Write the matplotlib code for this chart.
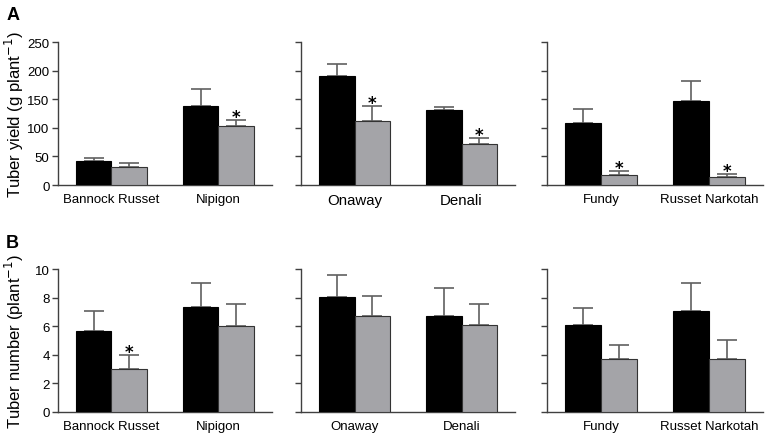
import matplotlib.pyplot as plt
import numpy as np

plt.rcParams['font.family'] = ['Liberation Sans', 'DejaVu Sans']

# cultivars in the three groups
groups = [["Bannock Russet", "Nipigon"], ["Onaway", "Denali"], ["Fundy", "Russet Narkotah"]]

# tuber yield (g plant-1): control (black) and treated (grey), upper error
yield_ctrl = [[42, 138], [190, 132], [109, 147]]
yield_ctrl_err = [[4.5, 30], [21, 5], [24, 35]]
yield_trt = [[32, 103], [112, 71], [17.5, 13.5]]
yield_trt_err = [[6, 11], [26, 12], [7.5, 6]]
yield_sig = [[False, True], [True, True], [True, True]]

# tuber number (plant-1)
num_ctrl = [[5.65, 7.33], [8.05, 6.7], [6.05, 7.05]]
num_ctrl_err = [[1.4, 1.72], [1.5, 1.95], [1.2, 2.0]]
num_trt = [[3.0, 6.0], [6.72, 6.05], [3.72, 3.7]]
num_trt_err = [[1.0, 1.52], [1.4, 1.48], [1.0, 1.3]]
num_sig = [[True, False], [False, False], [False, False]]

BAR_W = 1 / 3
GREY = '#a4a4a8'
ERR = '#606060'
AX_COL = '#404040'

fig = plt.figure(figsize=(7.65, 4.35), dpi=100)

lefts = [0.0758, 0.3935, 0.715]
widths = [0.2797, 0.2797, 0.282]
bottoms = [0.5724, 0.0506]
h = 0.3287


def draw(ax, ctrl, ctrl_err, trt, trt_err, sig, labels, ymax, yticks, show_y, lab_size, star_off):
    x = np.arange(len(labels))
    ax.bar(x - BAR_W / 2, ctrl, BAR_W, color='black', edgecolor='black', lw=0.8, zorder=3)
    ax.bar(x + BAR_W / 2, trt, BAR_W, color=GREY, edgecolor='#333333', lw=0.8, zorder=3)
    ax.errorbar(x - BAR_W / 2, ctrl, yerr=[np.zeros(len(x)), ctrl_err], fmt='none',
                ecolor=ERR, elinewidth=1.2, capsize=7, capthick=1.2, zorder=2)
    ax.errorbar(x + BAR_W / 2, trt, yerr=[np.zeros(len(x)), trt_err], fmt='none',
                ecolor=ERR, elinewidth=1.2, capsize=7, capthick=1.2, zorder=2)
    for i in range(len(x)):
        if sig[i]:
            ax.annotate('*', (x[i] + BAR_W / 2, trt[i] + trt_err[i]), xytext=(0, star_off),
                        textcoords='offset points', ha='center', va='center',
                        fontsize=12, fontweight='bold', family='DejaVu Sans')
    ax.set_xlim(-0.5, 1.5)
    ax.set_ylim(0, ymax)
    ax.set_yticks(yticks)
    if not show_y:
        ax.set_yticklabels([])
    ax.set_xticks(x)
    ax.set_xticklabels(labels, fontsize=lab_size)
    ax.tick_params(axis='x', length=0, pad=6)
    ax.tick_params(axis='y', length=4, width=1, color=AX_COL, labelsize=9.5, pad=2)
    for s in ['top', 'right']:
        ax.spines[s].set_visible(False)
    for s in ['left', 'bottom']:
        ax.spines[s].set_color(AX_COL)
        ax.spines[s].set_linewidth(1)


for k in range(3):
    ax = fig.add_axes([lefts[k], bottoms[0], widths[k], h])
    draw(ax, yield_ctrl[k], yield_ctrl_err[k], yield_trt[k], yield_trt_err[k], yield_sig[k],
         groups[k], 250, [0, 50, 100, 150, 200, 250], k == 0, 10.8 if k == 1 else 9.5, 2)
    if k == 0:
        ax.set_ylabel('Tuber yield (g plant$^{-1}$)', fontsize=12)
        ax.yaxis.set_label_coords(-0.15, 0.5)

    ax = fig.add_axes([lefts[k], bottoms[1], widths[k], h])
    draw(ax, num_ctrl[k], num_ctrl_err[k], num_trt[k], num_trt_err[k], num_sig[k],
         groups[k], 10, [0, 2, 4, 6, 8, 10], k == 0, 9.5, 2)
    if k == 0:
        ax.set_ylabel('Tuber number (plant$^{-1}$)', fontsize=12)
        ax.yaxis.set_label_coords(-0.15, 0.5)

fig.text(0.008, 0.985, 'A', fontsize=13, fontweight='bold', va='top')
fig.text(0.008, 0.46, 'B', fontsize=13, fontweight='bold', va='top')

fig.savefig('out.png', dpi=100)
